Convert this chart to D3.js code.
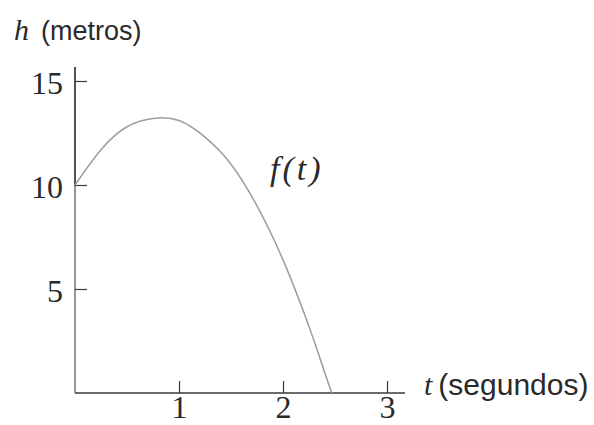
<!DOCTYPE html>
<html>
<head>
<meta charset="utf-8">
<script src="https://cdn.jsdelivr.net/npm/d3@7"></script>
<style>
  html, body { margin: 0; padding: 0; background: #fff; }
  svg { display: block; }
</style>
</head>
<body>
<svg id="chart" width="594" height="425"></svg>
<script>
// Height of the thrown object over time
const times   = [0, 0.25, 0.5, 0.75, 1.0, 1.25, 1.5, 1.75, 2.0, 2.25, 2.4, 2.47];
const heights = [10, 11.7, 12.8, 13.2, 13.1, 12.3, 11.0, 9.0, 6.4, 3.2, 1.0, 0];
const xTicks  = [1, 2, 3];
const yTicks  = [5, 10, 15];

const svg = d3.select("#chart");

const x = d3.scaleLinear().domain([0, 3]).range([75, 387]);
const y = d3.scaleLinear().domain([0, 15]).range([393, 81]);

const axisColor = "#3a3a3a";
const serif = "'Liberation Serif', 'DejaVu Serif', serif";
const sans = "'Liberation Sans', Arial, sans-serif";

// Axis lines
svg.append("line")
  .attr("x1", x(0)).attr("x2", 405)
  .attr("y1", y(0)).attr("y2", y(0))
  .attr("stroke", axisColor).attr("stroke-width", 1.5);
svg.append("line")
  .attr("x1", x(0)).attr("x2", x(0))
  .attr("y1", y(0)).attr("y2", y(10))
  .attr("stroke", "#6a6a6a").attr("stroke-width", 1.4);
svg.append("line")
  .attr("x1", x(0)).attr("x2", x(0))
  .attr("y1", y(10)).attr("y2", 67)
  .attr("stroke", "#1a1a1a").attr("stroke-width", 1.5);

// Ticks on the time axis (pointing up)
const xAxis = d3.axisBottom(x).tickValues(xTicks).tickSizeInner(-12).tickSizeOuter(0)
  .tickFormat(d3.format("d"));
const gx = svg.append("g").attr("transform", `translate(0,${y(0)})`).call(xAxis);
gx.select(".domain").remove();
gx.selectAll(".tick line").attr("stroke", axisColor).attr("stroke-width", 1.2);
gx.selectAll(".tick text")
  .attr("fill", "#2a2a2a")
  .attr("font-family", serif)
  .attr("font-size", 32)
  .attr("dy", null)
  .attr("y", 25);

// Ticks on the height axis (pointing right)
const yAxis = d3.axisLeft(y).tickValues(yTicks).tickSizeInner(-12).tickSizeOuter(0)
  .tickFormat(d3.format("d"));
const gy = svg.append("g").attr("transform", `translate(${x(0)},0)`).call(yAxis);
gy.select(".domain").remove();
gy.selectAll(".tick line").attr("stroke", axisColor).attr("stroke-width", 1.2);
gy.selectAll(".tick text")
  .attr("fill", "#2a2a2a")
  .attr("font-family", serif)
  .attr("font-size", 32)
  .attr("x", -12)
  .attr("dy", null)
  .attr("y", 12);

// Curve f(t)
const line = d3.line()
  .x((d, i) => x(times[i]))
  .y(d => y(d))
  .curve(d3.curveNatural);
svg.append("path")
  .attr("d", line(heights))
  .attr("fill", "none")
  .attr("stroke", "#9d9d9d")
  .attr("stroke-width", 1.5);

// Axis titles
const hTitle = svg.append("text").attr("x", 14).attr("y", 40).attr("fill", "#2a2a2a");
hTitle.append("tspan").attr("font-family", serif).attr("font-style", "italic")
  .attr("font-size", 30).text("h");
hTitle.append("tspan").attr("font-family", sans).attr("font-size", 27).attr("dx", 12).text("(metros)");

const tTitle = svg.append("text").attr("x", 424).attr("y", 395).attr("fill", "#2a2a2a");
tTitle.append("tspan").attr("font-family", serif).attr("font-style", "italic")
  .attr("font-size", 30).text("t");
tTitle.append("tspan").attr("font-family", sans).attr("font-size", 30).attr("dx", 6).text("(segundos)");

// Curve label
svg.append("text")
  .attr("x", 270).attr("y", 180)
  .attr("fill", "#2a2a2a")
  .attr("font-family", serif)
  .attr("font-style", "italic")
  .attr("font-size", 34)
  .attr("letter-spacing", 3)
  .text("f(t)");
</script>
</body>
</html>
